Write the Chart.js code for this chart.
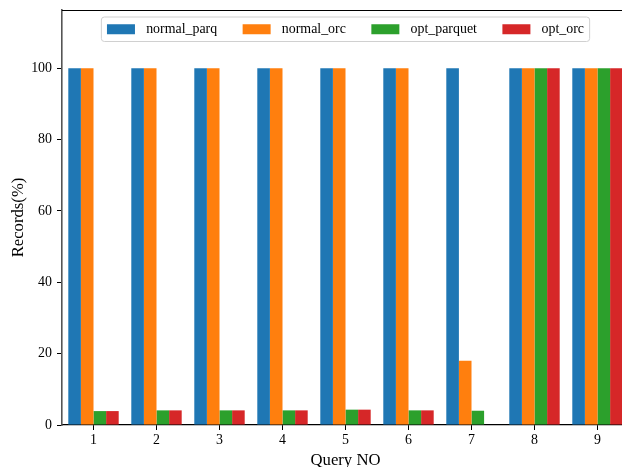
<!DOCTYPE html>
<html>
<head>
<meta charset="utf-8">
<script src="https://cdn.jsdelivr.net/npm/chart.js@4/dist/chart.umd.min.js"></script>
<style>
  html, body { margin: 0; padding: 0; background: #fff; overflow: hidden; }
  #wrap { width: 640px; height: 480px; }
</style>
</head>
<body>
<div id="wrap"><canvas id="c" width="640" height="480"></canvas></div>
<script>
// Share of records read per query, by storage format
const queries = ['1', '2', '3', '4', '5', '6', '7', '8', '9'];
const normalParq = [100, 100, 100, 100, 100, 100, 100, 100, 100];
const normalOrc = [100, 100, 100, 100, 100, 100, 18, 100, 100];
const optParquet = [3.9, 4.1, 4.1, 4.1, 4.3, 4.1, 4.0, 100, 100];
const optOrc = [3.9, 4.1, 4.1, 4.1, 4.3, 4.1, null, 100, 100];
const yTicks = [0, 20, 40, 60, 80, 100];

const serif = "'Liberation Serif', 'Times New Roman', serif";

// Legend box drawn inside the plot area, centred at the top
const innerLegend = {
  id: 'innerLegend',
  afterDraw(chart) {
    const ctx = chart.ctx;
    const area = chart.chartArea;
    const fs = 13.9;
    const handle = 28, handlePad = 11.2, colSpace = 25.5, pad = 5.6;
    ctx.save();
    ctx.font = fs + 'px ' + serif;
    const items = chart.data.datasets.map(ds => ({
      label: ds.label, color: ds.backgroundColor, w: ctx.measureText(ds.label).width
    }));
    let total = 0;
    items.forEach((it, i) => { total += handle + handlePad + it.w + (i < items.length - 1 ? colSpace : 0); });
    const boxW = total + pad * 2;
    const boxH = 24.5;
    const boxX = (area.left + area.right) / 2 - boxW / 2;
    const boxY = area.top + 7;
    // frame
    const r = 3;
    ctx.beginPath();
    ctx.moveTo(boxX + r, boxY);
    ctx.arcTo(boxX + boxW, boxY, boxX + boxW, boxY + boxH, r);
    ctx.arcTo(boxX + boxW, boxY + boxH, boxX, boxY + boxH, r);
    ctx.arcTo(boxX, boxY + boxH, boxX, boxY, r);
    ctx.arcTo(boxX, boxY, boxX + boxW, boxY, r);
    ctx.closePath();
    ctx.fillStyle = 'rgba(255,255,255,0.8)';
    ctx.fill();
    ctx.strokeStyle = '#d0d0d0';
    ctx.lineWidth = 1;
    ctx.stroke();
    // entries
    let x = boxX + pad;
    const cy = boxY + boxH / 2;
    ctx.textBaseline = 'middle';
    ctx.textAlign = 'left';
    items.forEach(it => {
      ctx.fillStyle = it.color;
      ctx.fillRect(x, cy - 5, handle, 10);
      x += handle + handlePad;
      ctx.fillStyle = '#000';
      ctx.fillText(it.label, x, cy + 0.5);
      x += it.w + colSpace;
    });
    ctx.restore();
  }
};

// Top spine of the axes frame
const topSpine = {
  id: 'topSpine',
  afterDraw(chart) {
    const { ctx, chartArea: a } = chart;
    ctx.save();
    ctx.strokeStyle = '#000';
    ctx.lineWidth = 1.2;
    ctx.beginPath();
    ctx.moveTo(a.left, a.top + 0.5);
    ctx.lineTo(a.right, a.top + 0.5);
    ctx.stroke();
    ctx.restore();
  }
};

new Chart(document.getElementById('c'), {
  type: 'bar',
  data: {
    labels: queries,
    datasets: [
      { label: 'normal_parq', data: normalParq, backgroundColor: '#1f77b4' },
      { label: 'normal_orc', data: normalOrc, backgroundColor: '#ff7f0e' },
      { label: 'opt_parquet', data: optParquet, backgroundColor: '#2ca02c' },
      { label: 'opt_orc', data: optOrc, backgroundColor: '#d62728' }
    ]
  },
  options: {
    responsive: false,
    animation: false,
    devicePixelRatio: 1,
    layout: { padding: { top: 10, right: 11, left: 0, bottom: 0 } },
    datasets: { bar: { categoryPercentage: 0.8, barPercentage: 1.0 } },
    plugins: {
      legend: { display: false },
      tooltip: { enabled: false }
    },
    scales: {
      x: {
        afterFit(scale) { scale.height = 55; },
        grid: { display: true, drawOnChartArea: false, drawTicks: true, tickLength: 5, offset: false, color: '#000' },
        border: { display: true, color: '#000', width: 1.2 },
        ticks: { color: '#000', padding: 2, font: { family: serif, size: 13.9 } },
        title: { display: true, text: 'Query NO', color: '#000', font: { family: serif, size: 16.7 }, padding: { top: 0, bottom: 9.6 } }
      },
      y: {
        min: 0,
        max: 116.3,
        afterFit(scale) {
          scale.width = 62;
          scale.paddingTop = 0;
          scale.paddingBottom = 0;
        },
        afterBuildTicks(scale) { scale.ticks = yTicks.map(v => ({ value: v })); },
        grid: { display: true, drawOnChartArea: false, drawTicks: true, tickLength: 5, color: '#000' },
        border: { display: true, color: '#555', width: 1.6 },
        ticks: { color: '#000', padding: 5, font: { family: serif, size: 13.9 } },
        title: { display: true, text: 'Records(%)', color: '#000', font: { family: serif, size: 16.7 }, padding: { top: 9, bottom: 0 } }
      }
    }
  },
  plugins: [innerLegend, topSpine]
});
</script>
</body>
</html>
